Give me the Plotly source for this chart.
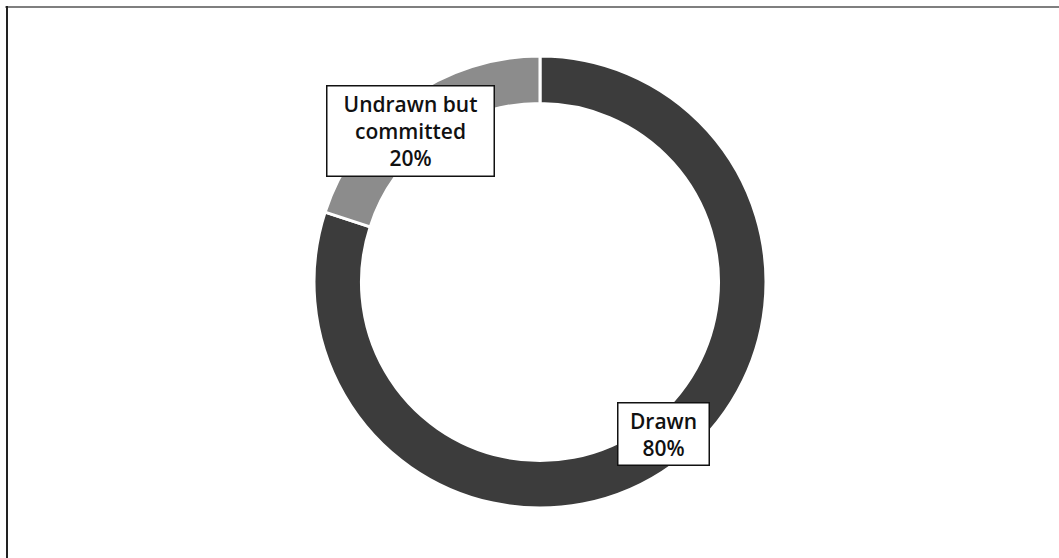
import plotly.graph_objects as go

labels = ["Drawn", "Undrawn but committed"]
label_lines = ["Drawn", "Undrawn but<br>committed"]
values = [80, 20]
colors = ["#3c3c3c", "#8c8c8c"]

total = sum(values)
pct = [round(v / total * 100) for v in values]

fig = go.Figure()
fig.add_trace(go.Pie(
    labels=labels,
    values=values,
    hole=0.79,
    sort=False,
    direction="clockwise",
    rotation=0,
    marker=dict(colors=colors, line=dict(color="white", width=3)),
    textinfo="none",
    hoverinfo="label+percent",
    showlegend=False,
    domain=dict(x=[0.2965, 0.7233], y=[0.0896, 0.8996]),
))

font = dict(family="Open Sans, Lato, sans-serif", size=21, color="#111111", weight=600)
fig.add_annotation(x=410 / 1059, y=1 - 131 / 558, xref="paper", yref="paper",
                   xanchor="center", yanchor="middle",
                   text=f"{label_lines[1]}<br>{pct[1]}%", showarrow=False,
                   font=font, bgcolor="white", bordercolor="#111111", borderwidth=1.5,
                   borderpad=3, align="center", width=160)
fig.add_annotation(x=663 / 1059, y=1 - 434 / 558, xref="paper", yref="paper",
                   xanchor="center", yanchor="middle",
                   text=f"{label_lines[0]}<br>{pct[0]}%", showarrow=False,
                   font=font, bgcolor="white", bordercolor="#111111", borderwidth=1.5,
                   borderpad=3, align="center", width=84)

# scanned frame edges
fig.add_shape(type="line", xref="paper", yref="paper", x0=0.005, x1=1, y0=1 - 7 / 558, y1=1 - 7 / 558,
              line=dict(color="#555555", width=1.5))
fig.add_shape(type="line", xref="paper", yref="paper", x0=7 / 1059, x1=7 / 1059, y0=0, y1=1 - 6 / 558,
              line=dict(color="#222222", width=2))

fig.update_layout(
    width=1059, height=558,
    margin=dict(l=0, r=0, t=0, b=0),
    paper_bgcolor="white", plot_bgcolor="white",
)
fig.write_html("out.html", config={"displayModeBar": False},
               post_script="document.body.style.margin='0';document.body.style.overflow='hidden';")
